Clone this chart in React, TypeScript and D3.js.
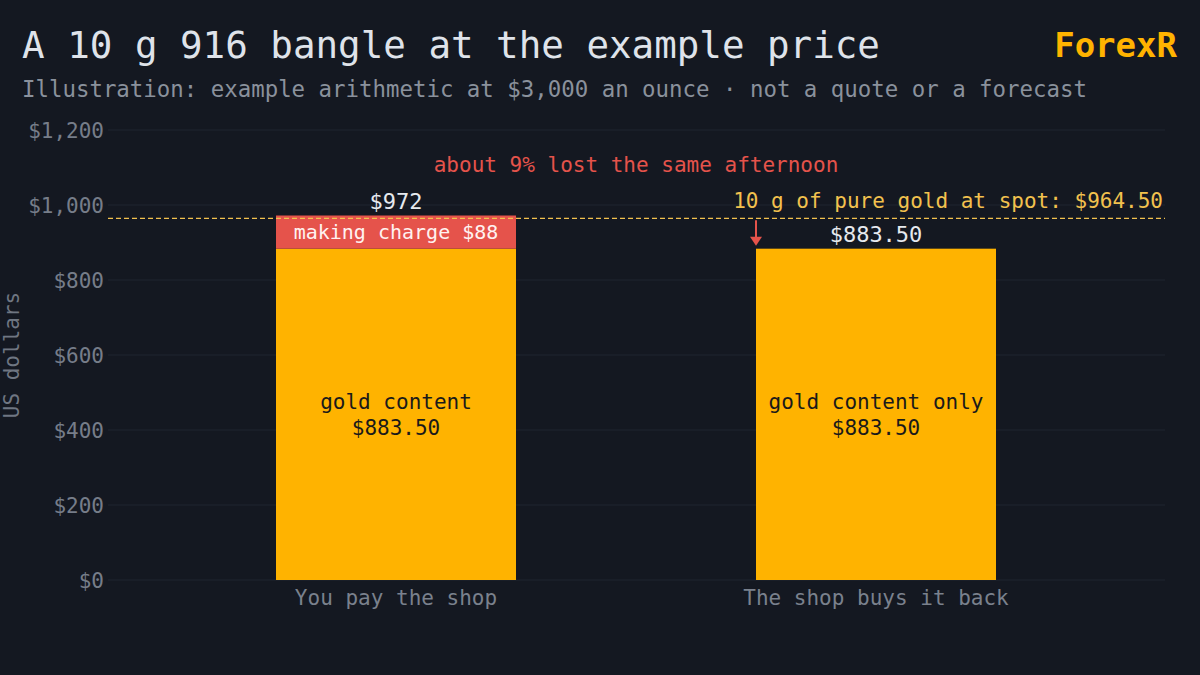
import React from 'react';
import * as d3 from 'd3';

// chart data
const categories = ['You pay the shop', 'The shop buys it back'];
const goldValues = [883.5, 883.5];
const makingValues = [88.5, 0];
const totalLabels = ['$972', '$883.50'];
const innerLabels = [['gold content', '$883.50'], ['gold content only', '$883.50']];
const spotValue = 964.5;
const yTicks = [0, 200, 400, 600, 800, 1000, 1200];

const W = 1200;
const H = 675;
const FONT = '"DejaVu Sans Mono", "Liberation Mono", monospace';
const BG = '#141821';
const GOLD = '#FFB300';
const RED = '#E5534B';

const App: React.FC = () => {
  const y = d3.scaleLinear().domain([0, 1200]).range([580, 130]);
  const x = d3.scaleBand<string>()
    .domain(categories)
    .range([108, 1164])
    .paddingInner(0.5)
    .paddingOuter(0.35);
  const bw = x.bandwidth();
  const fmt = (v: number) => '$' + d3.format(',')(v);

  const cx = (i: number) => (x(categories[i]) as number) + bw / 2;
  const midX = (cx(0) + cx(1)) / 2;
  const arrowX = x(categories[1]) as number;

  return (
    <svg width={W} height={H} style={{ display: 'block', position: 'absolute', left: 0, top: 0 }} fontFamily={FONT}>
      <rect width={W} height={H} fill={BG} />

      <text x={22} y={58} fontSize={37.5} fill="#dfe3ea">A 10 g 916 bangle at the example price</text>
      <text x={22} y={97} fontSize={22.4} fill="#8a919c">
        Illustration: example arithmetic at $3,000 an ounce · not a quote or a forecast
      </text>
      <text x={1177} y={57} fontSize={34} fontWeight={600} fill={GOLD} textAnchor="end">ForexR</text>

      {/* grid + y axis */}
      {yTicks.map(t => (
        <g key={t}>
          <line x1={108} x2={1165} y1={y(t)} y2={y(t)} stroke="#1f2531" strokeWidth={1} />
          <text x={104} y={y(t)} dy="0.38em" fontSize={21} fill="#767d89" textAnchor="end">{fmt(t)}</text>
        </g>
      ))}
      <text transform={`translate(19, 355) rotate(-90)`} fontSize={21} fill="#6f7682" textAnchor="middle">US dollars</text>

      {/* bars */}
      {categories.map((c, i) => {
        const x0 = x(c) as number;
        const top = goldValues[i] + makingValues[i];
        return (
          <g key={c}>
            <rect x={x0} y={y(goldValues[i])} width={bw} height={y(0) - y(goldValues[i])} fill={GOLD} />
            {makingValues[i] > 0 && (
              <>
                <rect x={x0} y={y(top)} width={bw} height={y(goldValues[i]) - y(top)} fill={RED} />
                <text x={cx(i)} y={(y(top) + y(goldValues[i])) / 2} dy="0.36em" fontSize={20} fill="#fff2f0" textAnchor="middle">
                  making charge $88
                </text>
              </>
            )}
            <text x={cx(i)} y={y(top) - 7} fontSize={22} fill="#e6e9ee" textAnchor="middle">{totalLabels[i]}</text>
            <text x={cx(i)} y={409} fontSize={21} fill="#1a1a1a" textAnchor="middle">{innerLabels[i][0]}</text>
            <text x={cx(i)} y={435} fontSize={21} fill="#1a1a1a" textAnchor="middle">{innerLabels[i][1]}</text>
            <text x={cx(i)} y={605} fontSize={21} fill="#7a818d" textAnchor="middle">{c}</text>
          </g>
        );
      })}

      {/* spot line */}
      <line x1={108} x2={1165} y1={y(spotValue)} y2={y(spotValue)} stroke="#F2C14E" strokeWidth={1.3} strokeDasharray="5,3" />
      <text x={1163} y={y(spotValue) - 10} fontSize={21} fill="#F2C14E" textAnchor="end">
        10 g of pure gold at spot: $964.50
      </text>

      {/* loss annotation */}
      <text x={midX} y={172} fontSize={21} fill={RED} textAnchor="middle">about 9% lost the same afternoon</text>
      <line x1={arrowX} x2={arrowX} y1={y(spotValue) + 2} y2={y(goldValues[1]) - 8} stroke={RED} strokeWidth={2} />
      <path
        d={`M${arrowX - 6},${y(goldValues[1]) - 12} L${arrowX + 6},${y(goldValues[1]) - 12} L${arrowX},${y(goldValues[1]) - 3} Z`}
        fill={RED}
      />
    </svg>
  );
};

export default App;
